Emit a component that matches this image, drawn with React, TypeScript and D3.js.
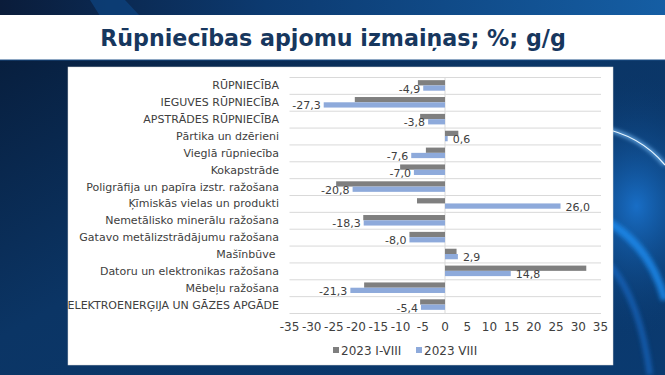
import React from "react";
import * as d3 from "d3";

const categories = [
  "RŪPNIECĪBA",
  "IEGUVES RŪPNIECĪBA",
  "APSTRĀDES RŪPNIECĪBA",
  "Pārtika un dzērieni",
  "Vieglā rūpniecība",
  "Kokapstrāde",
  "Poligrāfija un papīra izstr. ražošana",
  "Ķīmiskās vielas un produkti",
  "Nemetālisko minerālu ražošana",
  "Gatavo metālizstrādājumu ražošana",
  "Mašīnbūve ",
  "Datoru un elektronikas ražošana",
  "Mēbeļu ražošana",
  "ELEKTROENERĢIJA UN GĀZES APGĀDE",
];
const seriesNames = ["2023 I-VIII", "2023 VIII"];
const valuesIVIII = [-6.1, -20.3, -5.6, 3.0, -4.3, -10.1, -24.5, -6.3, -18.4, -8.0, 2.6, 31.8, -18.2, -5.6];
const valuesVIII = [-4.9, -27.3, -3.8, 0.6, -7.6, -7.0, -20.8, 26.0, -18.3, -8.0, 2.9, 14.8, -21.3, -5.4];
const xTicks = [-35, -30, -25, -20, -15, -10, -5, 0, 5, 10, 15, 20, 25, 30, 35];
const title = "Rūpniecības apjomu izmaiņas; %; g/g";

const colors = ["#7f7f7f", "#8eaadb"];
const font = "'DejaVu Sans', Verdana, sans-serif";

export default function App() {
  const W = 665, H = 375;
  const x = d3.scaleLinear().domain([-35, 35]).range([289.5, 600.5]);
  const y = d3.scaleBand<string>().domain(categories).range([77, 313]).paddingInner(0).paddingOuter(0);
  const ySub = d3.scaleBand<string>().domain(seriesNames).range([0, y.bandwidth()]).paddingInner(0).paddingOuter(0.6);
  const fmt = (v: number) => d3.format(".1f")(v).replace(".", ",").replace("−", "-");
  const series = [valuesIVIII, valuesVIII];
  const gridYs = categories.map((c) => y(c)!).concat([313]);

  return (
    <svg width={W} height={H} style={{ position: "absolute", left: 0, top: 0, display: "block" }}>
      <defs>
        <linearGradient id="bg" x1="0" y1="0" x2="1" y2="1">
          <stop offset="0" stopColor="#071a36" />
          <stop offset="0.45" stopColor="#0b3565" />
          <stop offset="1" stopColor="#0a3a70" />
        </linearGradient>
        <linearGradient id="topbar" x1="0" y1="0" x2="1" y2="0">
          <stop offset="0" stopColor="#0a1c3a" />
          <stop offset="0.4" stopColor="#0c3a70" />
          <stop offset="1" stopColor="#155ea4" />
        </linearGradient>
        <radialGradient id="glow" cx="0.9" cy="0.55" r="0.35">
          <stop offset="0" stopColor="#1a74d0" stopOpacity="0.9" />
          <stop offset="1" stopColor="#0a3a70" stopOpacity="0" />
        </radialGradient>
        <filter id="blur" x="-20%" y="-20%" width="140%" height="140%">
          <feGaussianBlur stdDeviation="2" />
        </filter>
      </defs>
      <rect x={0} y={0} width={W} height={H} fill="url(#bg)" />
      <rect x={0} y={0} width={W} height={16} fill="url(#topbar)" />
      <polygon points="90,0 125,0 140,16 100,16" fill="#0e4a8a" opacity={0.6} />
      <rect x={380} y={0} width={285} height={H} fill="url(#glow)" />
      <path d="M 600 128 Q 640 135 665 165" stroke="#7fc4ff" strokeWidth={3} fill="none" filter="url(#blur)" />
      <path d="M 600 128 Q 640 135 665 165" stroke="#e8f6ff" strokeWidth={1.2} fill="none" />
      <path d="M 605 220 Q 650 245 665 300" stroke="#1f8cf0" strokeWidth={8} fill="none" filter="url(#blur)" opacity={0.8} />
      <path d="M 610 265 Q 640 300 650 375" stroke="#1a6fd0" strokeWidth={6} fill="none" filter="url(#blur)" opacity={0.6} />

      <rect x={0} y={15} width={W} height={45} fill="#ffffff" />
      <line x1={0} x2={W} y1={60} y2={60} stroke="#1d4f86" strokeWidth={1} />
      <text x={333} y={46} textAnchor="middle" fontFamily={font} fontWeight="bold" fontSize={22.2} fill="#17375e">
        {title}
      </text>

      <rect x={68} y={67} width={545} height={298} fill="#ffffff" stroke="#d9d9d9" strokeWidth={0.5} />

      {gridYs.map((gy, i) => (
        <line key={"g" + i} x1={289.5} x2={601} y1={gy + 0.5} y2={gy + 0.5} stroke="#d9d9d9" strokeWidth={1} />
      ))}
      <line x1={x(0)} x2={x(0)} y1={77} y2={313} stroke="#d9d9d9" strokeWidth={1} />

      {series.map((vals, si) =>
        vals.map((v, i) => {
          const c = categories[i];
          const by = y(c)! + ySub(seriesNames[si])!;
          return (
            <rect
              key={"b" + si + "-" + i}
              x={Math.min(x(0), x(v))}
              y={by}
              width={Math.abs(x(v) - x(0))}
              height={ySub.bandwidth()}
              fill={colors[si]}
            />
          );
        })
      )}

      {valuesVIII.map((v, i) => {
        const c = categories[i];
        const by = y(c)! + ySub(seriesNames[1])! + ySub.bandwidth() / 2 + 4.5;
        const xx = v < 0 ? x(v) - 3 : x(v) + 5;
        return (
          <text key={"l" + i} x={xx} y={by} textAnchor={v < 0 ? "end" : "start"} fontFamily={font} fontSize={11} fill="#404040">
            {fmt(v)}
          </text>
        );
      })}

      {categories.map((c) => (
        <text
          key={"c" + c}
          x={279}
          y={y(c)! + y.bandwidth() / 2 + 4}
          textAnchor="end"
          fontFamily={font}
          fontSize={11}
          fill="#404040"
          style={{ whiteSpace: "pre" }}
        >
          {c}
        </text>
      ))}

      {xTicks.map((t) => (
        <text key={"t" + t} x={x(t)} y={331} textAnchor="middle" fontFamily={font} fontSize={12} fill="#404040">
          {t}
        </text>
      ))}

      {seriesNames.map((s, i) => {
        const lx = i === 0 ? 333 : 416;
        return (
          <g key={"lg" + s}>
            <rect x={lx} y={347} width={6} height={6} fill={colors[i]} />
            <text x={lx + 8} y={354.5} fontFamily={font} fontSize={12} fill="#404040">
              {s}
            </text>
          </g>
        );
      })}
    </svg>
  );
}
